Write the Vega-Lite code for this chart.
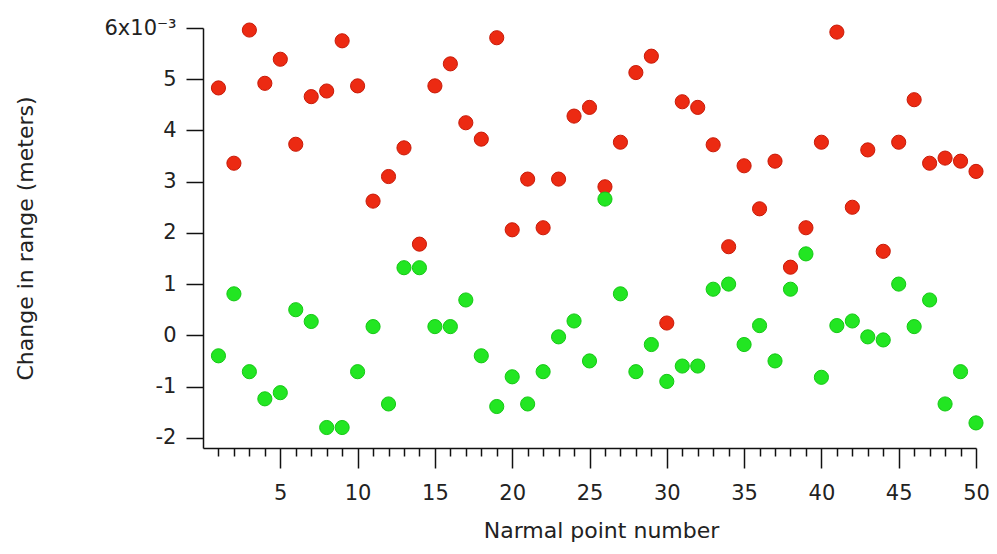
{
  "$schema": "https://vega.github.io/schema/vega-lite/v6.json",
  "width": 773,
  "height": 420,
  "autosize": "none",
  "padding": {"left": 203, "top": 28, "right": 21, "bottom": 106},
  "background": "white",
  "config": {
    "view": {"stroke": null},
    "font": "DejaVu Sans",
    "axis": {"grid": false, "domainColor": "#111", "tickColor": "#111", "domainWidth": 1.5, "tickWidth": 1.5, "labelColor": "#222", "titleColor": "#222", "labelFont": "DejaVu Sans", "titleFont": "DejaVu Sans", "labelFontSize": 21, "titleFontSize": 22, "titleFontWeight": "normal"}
  },
  "data": {"values": [
    {"n":1,"series":"red","v":0.00483},{"n":2,"series":"red","v":0.00336},{"n":3,"series":"red","v":0.00596},{"n":4,"series":"red","v":0.00492},{"n":5,"series":"red","v":0.00539},
    {"n":6,"series":"red","v":0.00373},{"n":7,"series":"red","v":0.00466},{"n":8,"series":"red","v":0.00477},{"n":9,"series":"red","v":0.00575},{"n":10,"series":"red","v":0.00487},
    {"n":11,"series":"red","v":0.00262},{"n":12,"series":"red","v":0.0031},{"n":13,"series":"red","v":0.00366},{"n":14,"series":"red","v":0.00178},{"n":15,"series":"red","v":0.00487},
    {"n":16,"series":"red","v":0.0053},{"n":17,"series":"red","v":0.00415},{"n":18,"series":"red","v":0.00383},{"n":19,"series":"red","v":0.00581},{"n":20,"series":"red","v":0.00206},
    {"n":21,"series":"red","v":0.00305},{"n":22,"series":"red","v":0.0021},{"n":23,"series":"red","v":0.00305},{"n":24,"series":"red","v":0.00428},{"n":25,"series":"red","v":0.00445},
    {"n":26,"series":"red","v":0.0029},{"n":27,"series":"red","v":0.00377},{"n":28,"series":"red","v":0.00513},{"n":29,"series":"red","v":0.00545},{"n":30,"series":"red","v":0.00024},
    {"n":31,"series":"red","v":0.00456},{"n":32,"series":"red","v":0.00445},{"n":33,"series":"red","v":0.00372},{"n":34,"series":"red","v":0.00173},{"n":35,"series":"red","v":0.00331},
    {"n":36,"series":"red","v":0.00247},{"n":37,"series":"red","v":0.0034},{"n":38,"series":"red","v":0.00133},{"n":39,"series":"red","v":0.0021},{"n":40,"series":"red","v":0.00377},
    {"n":41,"series":"red","v":0.00592},{"n":42,"series":"red","v":0.0025},{"n":43,"series":"red","v":0.00362},{"n":44,"series":"red","v":0.00164},{"n":45,"series":"red","v":0.00377},
    {"n":46,"series":"red","v":0.0046},{"n":47,"series":"red","v":0.00336},{"n":48,"series":"red","v":0.00346},{"n":49,"series":"red","v":0.0034},{"n":50,"series":"red","v":0.0032},
    {"n":1,"series":"green","v":-0.0004},{"n":2,"series":"green","v":0.00081},{"n":3,"series":"green","v":-0.00071},{"n":4,"series":"green","v":-0.00124},{"n":5,"series":"green","v":-0.00112},
    {"n":6,"series":"green","v":0.0005},{"n":7,"series":"green","v":0.00027},{"n":8,"series":"green","v":-0.0018},{"n":9,"series":"green","v":-0.0018},{"n":10,"series":"green","v":-0.00071},
    {"n":11,"series":"green","v":0.00017},{"n":12,"series":"green","v":-0.00134},{"n":13,"series":"green","v":0.00132},{"n":14,"series":"green","v":0.00132},{"n":15,"series":"green","v":0.00017},
    {"n":16,"series":"green","v":0.00017},{"n":17,"series":"green","v":0.00069},{"n":18,"series":"green","v":-0.0004},{"n":19,"series":"green","v":-0.00139},{"n":20,"series":"green","v":-0.00081},
    {"n":21,"series":"green","v":-0.00134},{"n":22,"series":"green","v":-0.00071},{"n":23,"series":"green","v":-0.00003},{"n":24,"series":"green","v":0.00028},{"n":25,"series":"green","v":-0.0005},
    {"n":26,"series":"green","v":0.00266},{"n":27,"series":"green","v":0.00081},{"n":28,"series":"green","v":-0.00071},{"n":29,"series":"green","v":-0.00018},{"n":30,"series":"green","v":-0.0009},
    {"n":31,"series":"green","v":-0.0006},{"n":32,"series":"green","v":-0.0006},{"n":33,"series":"green","v":0.0009},{"n":34,"series":"green","v":0.001},{"n":35,"series":"green","v":-0.00018},
    {"n":36,"series":"green","v":0.00019},{"n":37,"series":"green","v":-0.0005},{"n":38,"series":"green","v":0.0009},{"n":39,"series":"green","v":0.00159},{"n":40,"series":"green","v":-0.00082},
    {"n":41,"series":"green","v":0.00019},{"n":42,"series":"green","v":0.00028},{"n":43,"series":"green","v":-0.00003},{"n":44,"series":"green","v":-0.00009},{"n":45,"series":"green","v":0.001},
    {"n":46,"series":"green","v":0.00017},{"n":47,"series":"green","v":0.00069},{"n":48,"series":"green","v":-0.00134},{"n":49,"series":"green","v":-0.00071},{"n":50,"series":"green","v":-0.00171}
  ]},
  "resolve": {"axis": {"x": "independent", "y": "independent"}},
  "layer": [
    {
      "transform": [{"filter": "datum.series === 'red'"}],
      "mark": {"type": "point", "shape": "circle", "filled": true, "size": 200, "fill": "#ec2a12", "stroke": "#c81a08", "strokeWidth": 1, "opacity": 1},
      "encoding": {
        "x": {"field": "n", "type": "quantitative", "scale": {"domain": [0, 50], "nice": false, "zero": false},
          "axis": {"orient": "bottom", "title": "Narmal point number", "values": [5,10,15,20,25,30,35,40,45,50], "tickSize": 20, "labelPadding": 14, "labelFlush": false, "labelOverlap": false, "format": "d", "titleX": 398, "titleY": 82, "titleBaseline": "middle", "titleAnchor": null}},
        "y": {"field": "v", "type": "quantitative", "scale": {"domain": [-0.0022, 0.006], "nice": false, "zero": false},
          "axis": {"orient": "left", "title": "Change in range (meters)", "values": [-0.002,-0.001,0,0.001,0.002,0.003,0.004,0.005,0.006], "tickSize": 17, "labelPadding": 10, "labelFlush": false, "labelOverlap": false, "labelExpr": "datum.value > 0.0055 ? '6x10⁻³' : '' + round(datum.value * 1000)", "titleX": -178, "titleY": 210, "titleBaseline": "middle"}}
      }
    },
    {
      "transform": [{"filter": "datum.series === 'green'"}],
      "mark": {"type": "point", "shape": "circle", "filled": true, "size": 200, "fill": "#22e622", "stroke": "#14c814", "strokeWidth": 1, "opacity": 1},
      "encoding": {
        "x": {"field": "n", "type": "quantitative", "scale": {"domain": [0, 50], "nice": false, "zero": false},
          "axis": {"orient": "bottom", "title": null, "values": [1,2,3,4,6,7,8,9,11,12,13,14,16,17,18,19,21,22,23,24,26,27,28,29,31,32,33,34,36,37,38,39,41,42,43,44,46,47,48,49], "tickSize": 8, "labels": false, "domain": false}},
        "y": {"field": "v", "type": "quantitative", "scale": {"domain": [-0.0022, 0.006], "nice": false, "zero": false}, "axis": null}
      }
    }
  ]
}
